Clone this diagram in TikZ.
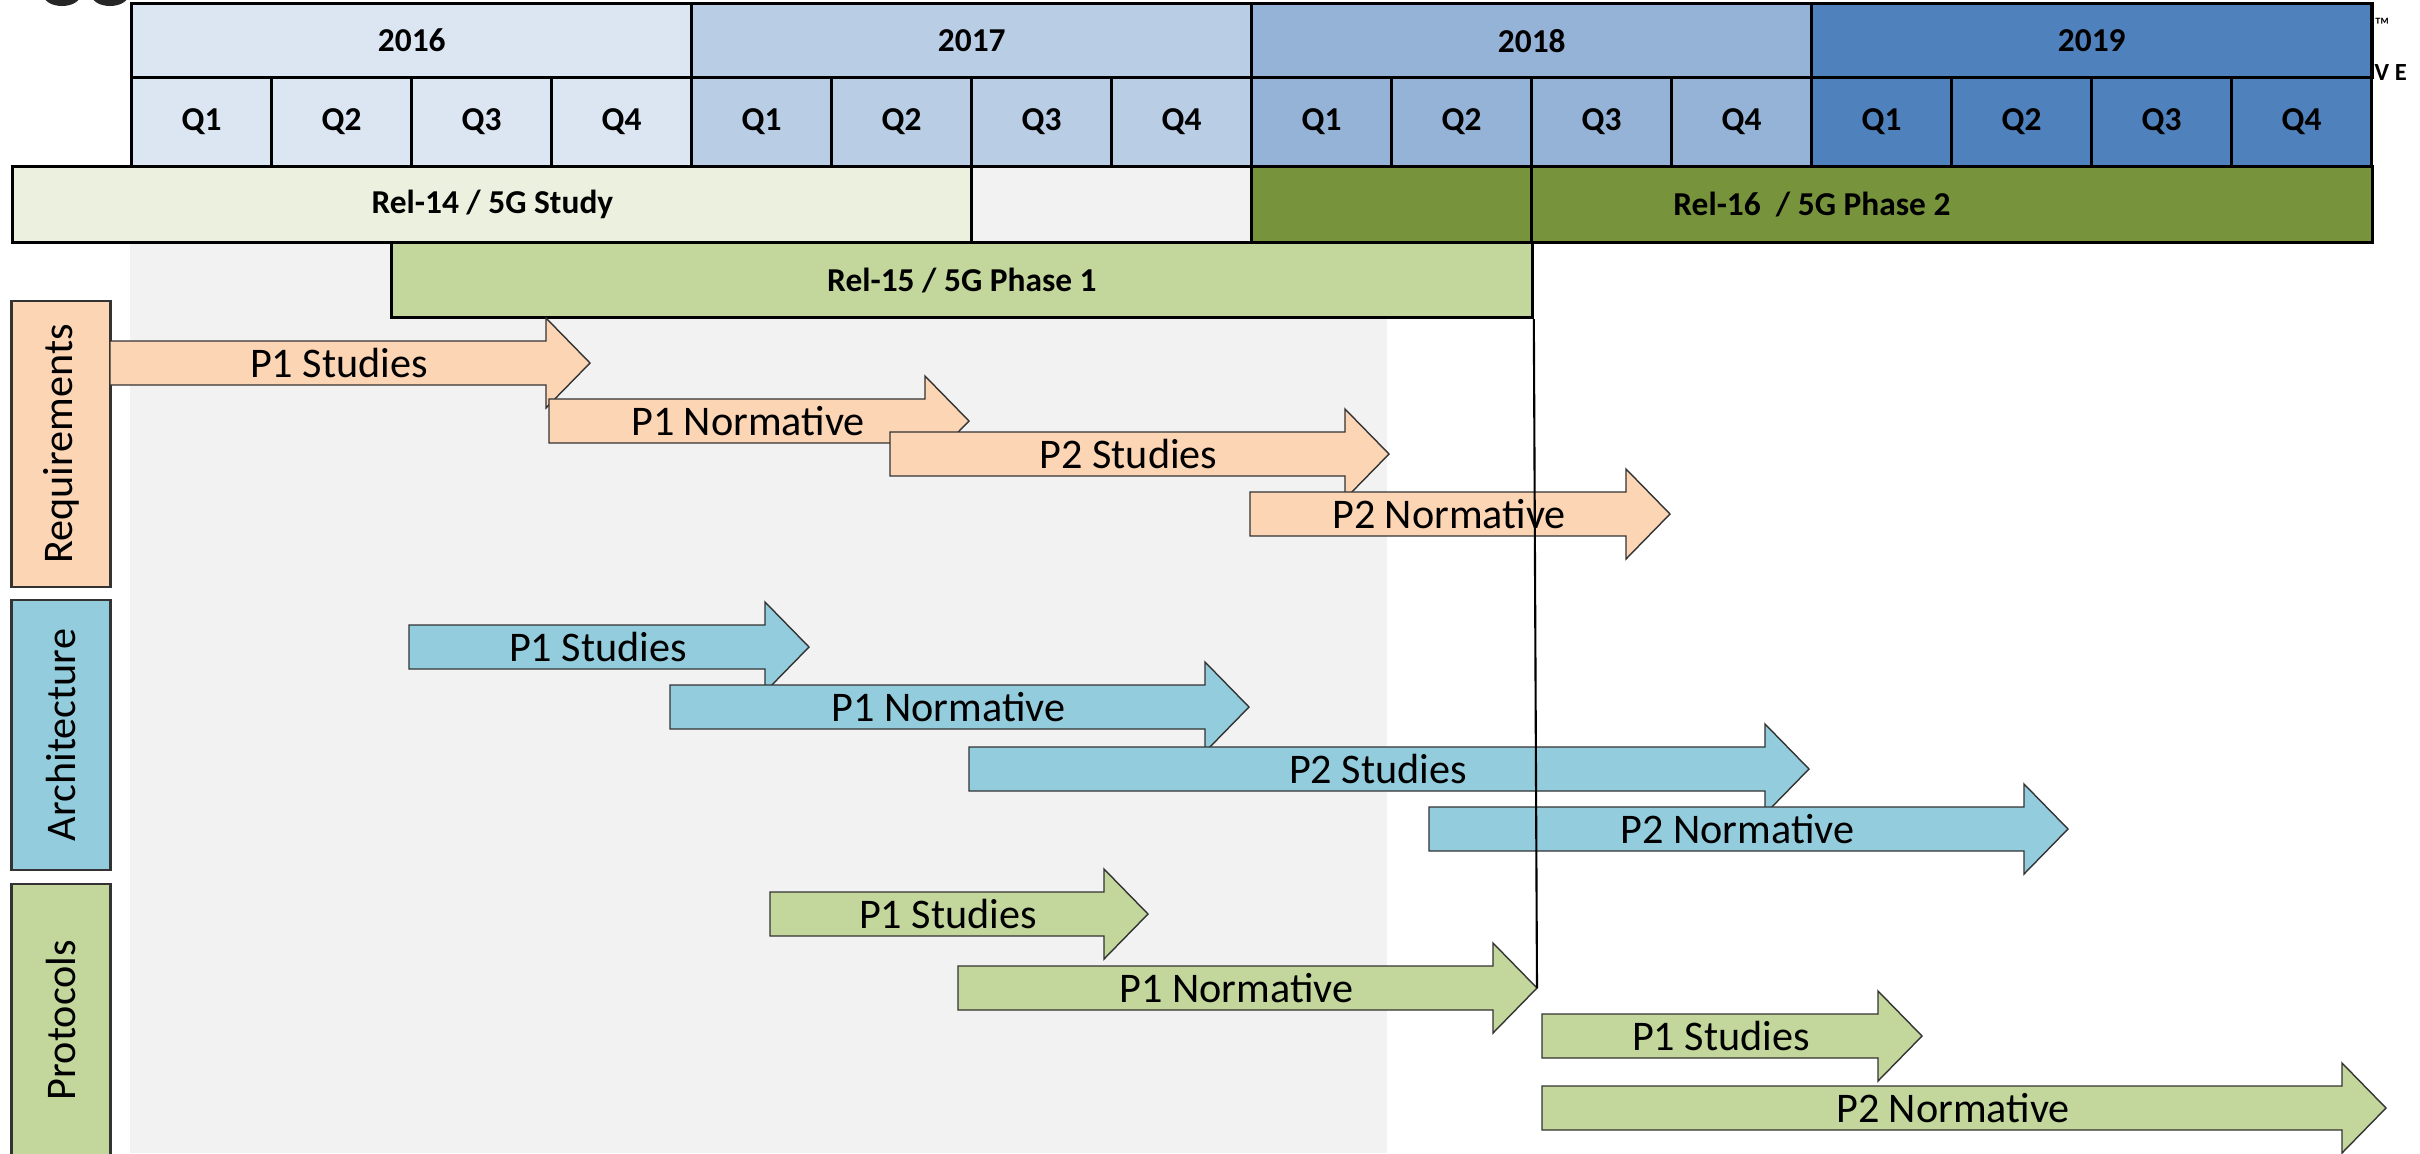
\documentclass[tikz,border=0pt]{standalone}
\usepackage{fontspec}
\setmainfont{Carlito}

\definecolor{yr16}{HTML}{DCE6F2}
\definecolor{yr17}{HTML}{B9CDE5}
\definecolor{yr18}{HTML}{95B3D7}
\definecolor{yr19}{HTML}{4F81BD}
\definecolor{relA}{HTML}{EBF1DE}
\definecolor{relB}{HTML}{C3D69B}
\definecolor{relC}{HTML}{77933C}
\definecolor{peach}{HTML}{FCD5B5}
\definecolor{aqua}{HTML}{93CDDD}
\definecolor{leaf}{HTML}{C3D69B}
\definecolor{greybg}{HTML}{F2F2F2}

% #1 style, #2 name, #3 x tail, #4 x tip, #5 y centre, #6 label
\newcommand{\phasearrow}[6]{%
  \draw[#1] (#3,#5-22) -- (#4-44,#5-22) -- (#4-44,#5-45) -- (#4,#5)
     -- (#4-44,#5+45) -- (#4-44,#5+22) -- (#3,#5+22) -- cycle;
  \node[phasetext] (#2) at ({(#3+#4-22)/2},#5) {#6};
  \coordinate (#2-tip) at (#4,#5);
}

\begin{document}
\begin{tikzpicture}[x=0.01cm,y=-0.01cm,
  yearbox/.style={draw, line width=0.9pt, anchor=north west, inner sep=0pt,
    minimum width=5.6cm, minimum height=0.74cm, font=\bfseries\fontsize{9.5}{11}\selectfont},
  qbox/.style={yearbox, minimum width=1.4cm, minimum height=0.89cm},
  relbar/.style={yearbox, minimum height=0.76cm},
  catbox/.style={draw=black!80, line width=0.7pt, rotate=90, inner sep=0pt,
    minimum height=0.99cm, font=\fontsize{12}{14}\selectfont},
  phasetext/.style={inner sep=0pt, font=\fontsize{12}{14}\selectfont},
  reqarrow/.style={fill=peach, draw=black!80, line width=0.4pt},
  archarrow/.style={fill=aqua, draw=black!80, line width=0.4pt},
  protarrow/.style={fill=leaf, draw=black!80, line width=0.4pt}]
\useasboundingbox (0,0) rectangle (2420,1153);
\clip (0,0) rectangle (2420,1153);

\fill[greybg] (130,241) rectangle (1387,1153); % grey period

% logo remains
\fill[black!85] (62,-6) ellipse (19 and 12);
\fill[black!85] (110,-6) ellipse (19 and 12);

%--------------------------------------------------------
\node[yearbox, fill=yr16] (y2016) at (130,2) {2016};
\node[yearbox, fill=yr17] (y2017) at (690,2) {2017};
\node[yearbox, fill=yr18] (y2018) at (1250,2) {2018};
\node[yearbox, fill=yr19] (y2019) at (1810,2) {2019};

\node[qbox, fill=yr16] (q16a) at (130,76) {Q1};
\node[qbox, fill=yr16] (q16b) at (270,76) {Q2};
\node[qbox, fill=yr16] (q16c) at (410,76) {Q3};
\node[qbox, fill=yr16] (q16d) at (550,76) {Q4};
\node[qbox, fill=yr17] (q17a) at (690,76) {Q1};
\node[qbox, fill=yr17] (q17b) at (830,76) {Q2};
\node[qbox, fill=yr17] (q17c) at (970,76) {Q3};
\node[qbox, fill=yr17] (q17d) at (1110,76) {Q4};
\node[qbox, fill=yr18] (q18a) at (1250,76) {Q1};
\node[qbox, fill=yr18] (q18b) at (1390,76) {Q2};
\node[qbox, fill=yr18] (q18c) at (1530,76) {Q3};
\node[qbox, fill=yr18] (q18d) at (1670,76) {Q4};
\node[qbox, fill=yr19] (q19a) at (1810,76) {Q1};
\node[qbox, fill=yr19] (q19b) at (1950,76) {Q2};
\node[qbox, fill=yr19] (q19c) at (2090,76) {Q3};
\node[qbox, fill=yr19] (q19d) at (2230,76) {Q4};

\node[relbar, fill=relA, minimum width=9.59cm] (rel14) at (11,165) {Rel-14 / 5G Study};
\node[relbar, fill=greybg, minimum width=2.8cm] (gap) at (970,165) {};
\node[relbar, fill=relC, minimum width=11.2cm] (rel16) at (1250,165) {Rel-16~~/ 5G Phase 2};
\node[relbar, fill=relC, minimum width=2.8cm] (rel16a) at (1250,165) {};
\node[relbar, fill=relB, minimum width=11.4cm, minimum height=0.75cm] (rel15) at (390,241) {Rel-15 / 5G Phase 1};

\node[font=\fontsize{6}{7}\selectfont, anchor=west, inner sep=0pt] (tm) at (2374,25) {™};
\node[font=\bfseries\fontsize{7}{8}\selectfont, anchor=west, inner sep=0pt] (ve) at (2374,73) {V E};

%--------------------------------------------------------
\node[catbox, fill=peach, minimum width=2.86cm] (req) at (61,444) {Requirements};
\node[catbox, fill=aqua, minimum width=2.70cm] (arch) at (61,735) {Architecture};
\node[catbox, fill=leaf, minimum width=2.72cm] (prot) at (61,1020) {Protocols};

\phasearrow{reqarrow}{rs1}{110}{590}{363}{P1 Studies}
\phasearrow{reqarrow}{rn1}{549}{969}{421}{P1 Normative}
\phasearrow{reqarrow}{rs2}{890}{1389}{454}{P2 Studies}
\phasearrow{reqarrow}{rn2}{1250}{1670}{514}{P2 Normative}

\phasearrow{archarrow}{as1}{409}{809}{647}{P1 Studies}
\phasearrow{archarrow}{an1}{670}{1249}{707}{P1 Normative}
\phasearrow{archarrow}{as2}{969}{1809}{769}{P2 Studies}
\phasearrow{archarrow}{an2}{1429}{2068}{829}{P2 Normative}

\phasearrow{protarrow}{ps1}{770}{1148}{914}{P1 Studies}
\phasearrow{protarrow}{pn1}{958}{1537}{988}{P1 Normative}
\phasearrow{protarrow}{ps2}{1542}{1922}{1036}{P1 Studies}
\phasearrow{protarrow}{pn2}{1542}{2386}{1108}{P2 Normative}

\draw[line width=0.6pt] (rel15.south east) -- (pn1-tip);
\end{tikzpicture}
\end{document}
